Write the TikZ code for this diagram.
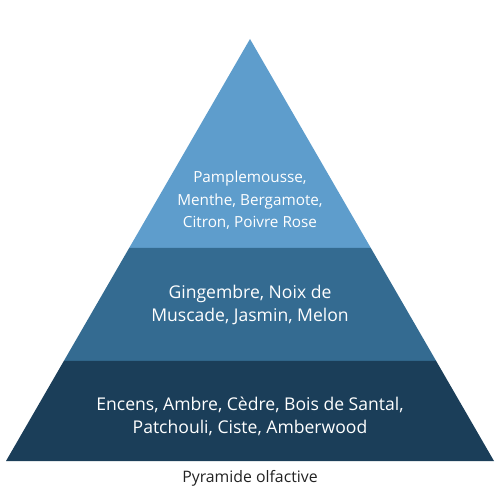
\documentclass[tikz,border=0pt]{standalone}
\usepackage{fontspec}
\setmainfont{Open Sans}
\usetikzlibrary{calc}
\definecolor{pyrTop}{HTML}{5E9DCC}
\definecolor{pyrHeart}{HTML}{346B91}
\definecolor{pyrBase}{HTML}{1B3E59}
\definecolor{pyrText}{HTML}{222222}
\tikzset{
  tierText/.style={
    text=white,
    align=center,
    font=\fontsize{10}{13.4}\selectfont,
    inner sep=0pt
  },
  captionText/.style={
    text=pyrText,
    font=\fontsize{9}{11}\selectfont,
    inner sep=0pt
  }
}
\begin{document}
\begin{tikzpicture}[x=0.02cm,y=-0.02cm]
  \useasboundingbox (0,0) rectangle (500,500);
  \coordinate (apex) at (250,39);
  \coordinate (baseL) at (6,461);
  \coordinate (baseR) at (494,461);
  \coordinate (headL) at ($(apex)!0.495!(baseL)$);
  \coordinate (headR) at ($(apex)!0.495!(baseR)$);
  \coordinate (heartL) at ($(apex)!0.763!(baseL)$);
  \coordinate (heartR) at ($(apex)!0.763!(baseR)$);

  % three layers of the pyramid
  \fill[pyrTop] (apex) -- (headR) -- (headL) -- cycle;
  \fill[pyrHeart] (headL) -- (headR) -- (heartR) -- (heartL) -- cycle;
  \fill[pyrBase] (heartL) -- (heartR) -- (baseR) -- (baseL) -- cycle;

  \node[tierText, font=\fontsize{8.7}{12.8}\selectfont] (head) at (250,200.5)
    {Pamplemousse,\\Menthe, Bergamote,\\Citron, Poivre Rose};
  \node[tierText] (heart) at (250,305)
    {Gingembre, Noix de\\Muscade, Jasmin, Melon};
  \node[tierText] (base) at (250,416.5)
    {Encens, Ambre, Cèdre, Bois de Santal,\\Patchouli, Ciste, Amberwood};

  \node[captionText] (caption) at (250,478) {Pyramide olfactive};
\end{tikzpicture}
\end{document}
